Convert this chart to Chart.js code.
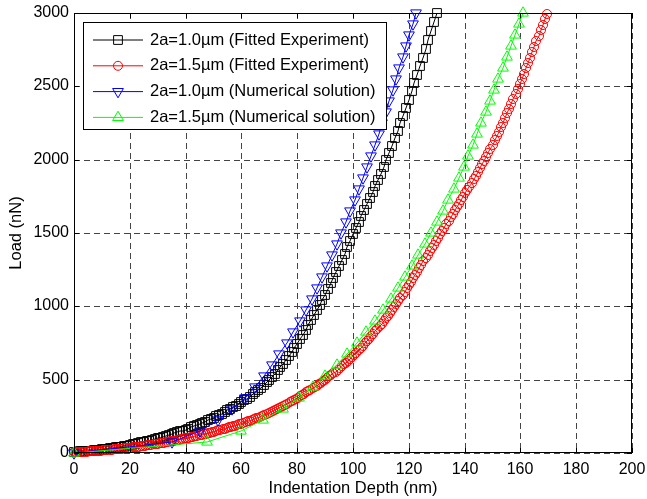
<!DOCTYPE html>
<html>
<head>
<meta charset="utf-8">
<script src="https://cdn.jsdelivr.net/npm/chart.js@4.4.1/dist/chart.umd.min.js"></script>
<style>
  html, body { margin: 0; padding: 0; background: #fff; }
  #wrap { width: 647px; height: 499px; }
</style>
</head>
<body>
<div id="wrap"><canvas id="chart" width="647" height="499"></canvas></div>
<script>
"use strict";

const FONT = "'Liberation Sans', Arial, Helvetica, sans-serif";

// 2a=1.0um, fitted experiment (depth in nm, load in nN)
const fit10Depth = [
	0,1,2,3,4,5,6,7,8,9,10,11,12,13,14,15,16,17,18,19,20,21,22,23,24,25,26,27,28,29,
	30,31,32,33,34,35,36,37,38,39,40,41,42,43,44,45,46,47,48,49,50,51,52,53,54,55,56,57,58,59,
	60,61,62,63,64,65,66,67,68,69,70,71,72,73,74,75,76,77,78,79,80,81,82,83,84,85,86,87,88,89,
	90,91,92,93,94,95,96,97,98,99,100,101,102,103,104,105,106,107,108,109,110,111,112,113,114,115,116,117,118,119,
	120,121,122,123,124,125,126,127,128,129,130
]
const fit10Load = [
	8,9,11,12,14,16,17,19,21,23,
	25,27,30,32,35,38,41,44,48,51,
	55,59,63,67,72,76,81,85,90,95,
	100,105,111,117,123,129,135,141,147,153,
	160,167,174,182,189,197,205,214,222,231,
	240,249,259,269,279,290,300,311,322,334,
	345,358,371,385,399,414,430,446,464,481,
	500,520,541,563,586,610,635,661,688,716,
	745,776,807,839,871,904,938,973,1008,1044,
	1080,1118,1157,1196,1236,1277,1318,1360,1403,1446,
	1490,1531,1573,1614,1655,1697,1738,1779,1820,1862,
	1903,1950,1997,2045,2095,2145,2196,2248,2301,2355,
	2410,2466,2522,2579,2637,2695,2755,2815,2876,2938,
	3000
]

// 2a=1.5um, fitted experiment
const fit15Depth = [
	0,0.75,1.5,2.25,3,3.75,4.5,5.25,6,6.75,7.5,8.25,9,9.75,
	10.5,11.25,12,12.75,13.5,14.25,15,15.75,16.5,17.25,18,18.75,19.5,
	20.25,21,21.75,22.5,23.25,24,24.75,25.5,26.25,27,27.75,28.5,29.25,
	30,30.75,31.5,32.25,33,33.75,34.5,35.25,36,36.75,37.5,38.25,39,39.75,
	40.5,41.25,42,42.75,43.5,44.25,45,45.75,46.5,47.25,48,48.75,49.5,
	50.25,51,51.75,52.5,53.25,54,54.75,55.5,56.25,57,57.75,58.5,59.25,
	60,60.75,61.5,62.25,63,63.75,64.5,65.25,66,66.75,67.5,68.25,69,69.75,
	70.5,71.25,72,72.75,73.5,74.25,75,75.75,76.5,77.25,78,78.75,79.5,
	80.25,81,81.75,82.5,83.25,84,84.75,85.5,86.25,87,87.75,88.5,89.25,
	90,90.75,91.5,92.25,93,93.75,94.5,95.25,96,96.75,97.5,98.25,99,99.75,
	100.5,101.25,102,102.75,103.5,104.25,105,105.75,106.5,107.25,108,108.75,109.5,
	110.25,111,111.75,112.5,113.25,114,114.75,115.5,116.25,117,117.75,118.5,119.25,
	120,120.75,121.5,122.25,123,123.75,124.5,125.25,126,126.75,127.5,128.25,129,129.75,
	130.5,131.25,132,132.75,133.5,134.25,135,135.75,136.5,137.25,138,138.75,139.5,
	140.25,141,141.75,142.5,143.25,144,144.75,145.5,146.25,147,147.75,148.5,149.25,
	150,150.75,151.5,152.25,153,153.75,154.5,155.25,156,156.75,157.5,158.25,159,159.75,
	160.5,161.25,162,162.75,163.5,164.25,165,165.75,166.5,167.25,168,168.75,169.5
]
const fit15Load = [
	5,6,6,7,8,9,10,11,11,12,13,14,16,17,
	18,19,20,21,23,24,26,27,28,30,32,33,35,
	37,38,40,42,44,46,48,50,53,55,57,59,62,
	64,66,69,71,74,77,79,82,85,87,90,93,96,99,
	102,105,108,111,115,118,121,125,128,132,135,139,143,
	146,150,154,158,162,166,170,174,178,182,187,191,196,
	200,205,210,215,220,225,231,236,242,248,254,260,266,273,
	279,286,293,300,307,315,322,330,337,345,353,361,369,
	378,386,395,404,413,422,431,441,450,460,470,480,490,
	500,511,522,533,544,555,567,579,591,604,616,629,642,656,
	670,685,700,715,731,747,763,779,795,812,829,846,863,
	881,899,918,937,956,976,996,1016,1037,1058,1079,1101,1123,
	1145,1168,1191,1214,1237,1260,1283,1306,1329,1352,1375,1398,1421,1444,
	1468,1491,1514,1537,1561,1584,1607,1630,1654,1677,1700,1723,1747,
	1770,1793,1817,1841,1866,1891,1916,1942,1968,1994,2020,2047,2074,
	2102,2131,2161,2191,2221,2252,2283,2315,2347,2380,2413,2447,2481,2515,
	2551,2586,2622,2658,2695,2731,2768,2806,2843,2881,2919,2957,2996
]

// numerical solutions: load steps shared by both sizes
const numLoad = [
	0,75,150,225,300,375,450,525,600,675,750,825,900,975,1050,1125,1200,1275,1350,1425,
	1500,1575,1650,1725,1800,1875,1950,2025,2100,2175,2250,2325,2400,2475,2550,2625,2700,2775,2850,2925,
	3000
]
const num10Depth = [
	0,35,45,51.6,56.8,61.2,64.9,68.1,70.9,73.5,76.2,78.6,80.9,83.1,85.2,87.1,88.9,90.7,92.4,94.1,
	95.8,97.4,99.0,100.6,102.1,103.6,105.1,106.5,107.9,109.2,110.5,111.8,113.0,114.2,115.4,116.6,117.8,119.0,120.2,121.4,
	122.6
]
const num15Depth = [
	0,47.5,60,67.8,74.9,80.8,85.6,90.1,94.2,97.9,101.4,104.7,108.0,110.9,113.6,116.1,118.6,121.0,123.4,125.7,
	128.0,130.1,132.2,134.2,136.1,137.9,139.7,141.3,142.9,144.5,146.0,147.6,149.1,150.6,152.1,153.6,155.1,156.6,158.1,159.6,
	161.1
]

const xTicks = [0, 20, 40, 60, 80, 100, 120, 140, 160, 180, 200]
const yTicks = [0, 500, 1000, 1500, 2000, 2500, 3000]

const series = [
	{ label: '2a=1.0\u00b5m (Fitted Experiment)', xs: fit10Depth, ys: fit10Load, color: '#000000', marker: 'rect', size: 6.2, rot: 0, order: 4 },
	{ label: '2a=1.5\u00b5m (Fitted Experiment)', xs: fit15Depth, ys: fit15Load, color: '#ff0000', marker: 'circle', size: 4.5, rot: 0, order: 3 },
	{ label: '2a=1.0\u00b5m (Numerical solution)', xs: num10Depth, ys: numLoad, color: '#0000ff', marker: 'triangle', size: 6.2, rot: 180, order: 2 },
	{ label: '2a=1.5\u00b5m (Numerical solution)', xs: num15Depth, ys: numLoad, color: '#00ff00', marker: 'triangle', size: 6.2, rot: 0, order: 1 }
]

function drawMarker(ctx, s, x, y) {
	ctx.beginPath()
	if (s.marker === 'rect') {
		const h = s.size * Math.SQRT1_2
		ctx.rect(x - h, y - h, 2 * h, 2 * h)
	} else if (s.marker === 'circle') {
		ctx.arc(x, y, s.size, 0, Math.PI * 2)
	} else {
		let rad = s.rot * Math.PI / 180
		for (let k = 0; k < 3; k++) {
			const px = x + Math.sin(rad) * s.size
			const py = y - Math.cos(rad) * s.size
			if (k === 0) ctx.moveTo(px, py)
			else ctx.lineTo(px, py)
			rad += Math.PI * 2 / 3
		}
		ctx.closePath()
	}
	ctx.stroke()
}

// box round the axes with inward ticks on all four sides
const axesBox = {
	id: 'axesBox',
	afterDatasetsDraw(chart) {
		const { ctx, chartArea: a, scales } = chart
		ctx.save()
		ctx.setLineDash([])
		ctx.strokeStyle = '#000'
		ctx.lineWidth = 1
		ctx.beginPath()
		xTicks.forEach(v => {
			const px = Math.round(scales.x.getPixelForValue(v)) + 0.5
			ctx.moveTo(px, a.bottom); ctx.lineTo(px, a.bottom - 5)
			ctx.moveTo(px, a.top); ctx.lineTo(px, a.top + 5)
		})
		yTicks.forEach(v => {
			const py = Math.round(scales.y.getPixelForValue(v)) + 0.5
			ctx.moveTo(a.left, py); ctx.lineTo(a.left + 5, py)
			ctx.moveTo(a.right, py); ctx.lineTo(a.right - 5, py)
		})
		ctx.stroke()
		ctx.strokeRect(a.left + 0.5, a.top + 0.5, a.right - a.left - 1, a.bottom - a.top - 1)
		ctx.restore()
	}
}

// legend box inside the plot, top left
const legendBox = {
	id: 'legendBox',
	afterDraw(chart) {
		const ctx = chart.ctx
		ctx.save()
		ctx.setLineDash([])
		ctx.fillStyle = '#fff'
		ctx.fillRect(83.5, 22.5, 303, 107)
		ctx.strokeStyle = '#000'
		ctx.lineWidth = 1
		ctx.strokeRect(83.5, 22.5, 303, 107)
		series.forEach((s, i) => {
			const cy = 40 + i * 25.8
			ctx.strokeStyle = s.color
			ctx.beginPath()
			ctx.moveTo(93, cy)
			ctx.lineTo(143, cy)
			ctx.stroke()
			drawMarker(ctx, s, 118, cy)
			ctx.fillStyle = '#000'
			ctx.font = '16.5px ' + FONT
			ctx.textBaseline = 'middle'
			ctx.textAlign = 'left'
			ctx.fillText(s.label, 150, cy)
		})
		ctx.restore()
	}
}

const chart = new Chart(document.getElementById('chart'), {
	type: 'line',
	data: {
		datasets: series.map(s => ({
			label: s.label,
			data: s.xs.map((d, i) => ({ x: d, y: s.ys[i] })),
			borderColor: s.color,
			borderWidth: 1,
			pointStyle: s.marker,
			pointRadius: s.size,
			pointRotation: s.rot,
			pointBorderWidth: 1,
			pointBorderColor: s.color,
			pointBackgroundColor: 'rgba(0,0,0,0)',
			tension: 0,
			fill: false,
			clip: false,
			order: s.order
		}))
	},
	options: {
		responsive: false,
		animation: false,
		devicePixelRatio: 1,
		events: [],
		layout: { padding: { top: 13, right: 15, left: 0, bottom: 0 } },
		plugins: { legend: { display: false }, tooltip: { enabled: false } },
		scales: {
			x: {
				type: 'linear',
				position: 'bottom',
				min: 0,
				max: 200,
				alignToPixels: true,
				afterFit(scale) {
					scale.height = 46
					scale.paddingLeft = 0
					scale.paddingRight = 0
				},
				afterBuildTicks(scale) { scale.ticks = xTicks.map(v => ({ value: v })) },
				ticks: { color: '#000', padding: 7, maxRotation: 0, font: { family: FONT, size: 16 }, callback: v => String(v) },
				grid: { color: '#444', lineWidth: 1, drawTicks: false },
				border: { display: false, dash: [6, 4] },
				title: { display: true, text: 'Indentation Depth (nm)', color: '#000', font: { family: FONT, size: 16.5 }, padding: { top: 0, bottom: 1 } }
			},
			y: {
				type: 'linear',
				position: 'left',
				min: 0,
				max: 3000,
				alignToPixels: true,
				afterFit(scale) {
					scale.width = 74
					scale.paddingTop = 0
					scale.paddingBottom = 0
				},
				afterBuildTicks(scale) { scale.ticks = yTicks.map(v => ({ value: v })) },
				ticks: { color: '#000', padding: 5, font: { family: FONT, size: 16 }, callback: v => String(v) },
				grid: { color: '#444', lineWidth: 1, drawTicks: false },
				border: { display: false, dash: [6, 4] },
				title: { display: true, text: 'Load (nN)', color: '#000', font: { family: FONT, size: 16.5 }, padding: { top: 7, bottom: 0 } }
			}
		}
	},
	plugins: [axesBox, legendBox]
})
</script>
</body>
</html>
